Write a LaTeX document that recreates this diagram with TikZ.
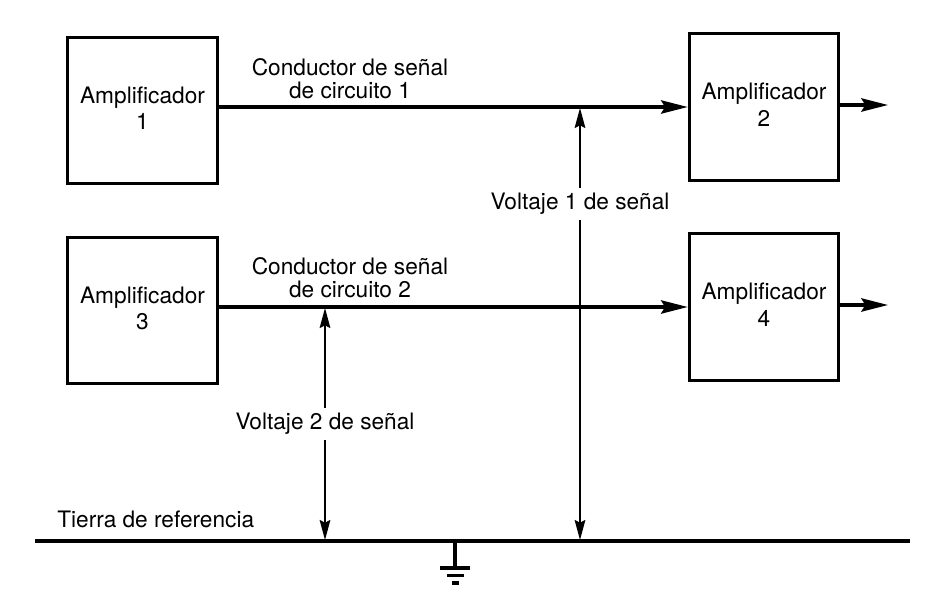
\documentclass[tikz,border=0pt]{standalone}
\usepackage{fontspec}
\setmainfont{TeX Gyre Heros}
\usetikzlibrary{arrows.meta,positioning}

\tikzset{
  ampbox/.style={draw, line width=2.4pt, minimum width=112pt, minimum height=110pt, inner sep=0pt},
  amptext/.style={align=center, inner sep=0pt, font=\fontsize{17}{20}\selectfont},
  wiretext/.style={align=center, inner sep=0pt, font=\fontsize{17}{17.3}\selectfont},
  sigline/.style={line width=2.3pt, -{Stealth[length=20pt, width=10pt, inset=3pt]}},
  voltline/.style={line width=1.2pt, -{Stealth[length=15pt, width=8pt, inset=2pt]}},
  voltlabel/.style={inner sep=4pt, font=\fontsize{17}{20}\selectfont},
}

\begin{document}
\begin{tikzpicture}[x=0.75pt, y=-0.75pt]
  \useasboundingbox (0, 0) rectangle (950, 613);

  % amplifier boxes
  \node[ampbox] (amp1) at (142.5, 110.5) {};
  \node[ampbox] (amp2) at (764, 107) {};
  \node[ampbox] (amp3) at (142.5, 310.5) {};
  \node[ampbox] (amp4) at (764, 307) {};
  \node[amptext, below=38pt of amp1.north] (t1) {Amplificador\\1};
  \node[amptext, below=38pt of amp2.north] (t2) {Amplificador\\2};
  \node[amptext, below=38pt of amp3.north] (t3) {Amplificador\\3};
  \node[amptext, below=38pt of amp4.north] (t4) {Amplificador\\4};

  % signal conductors
  \coordinate (s1) at (amp1.east |- 0, 107);
  \coordinate (s2) at (amp3.east |- 0, 307);
  \draw[sigline] (s1) -- (s1 -| amp2.west);
  \draw[sigline] (s2) -- (s2 -| amp4.west);
  \coordinate (o2) at (888, 105);
  \coordinate (o4) at (888, 305);
  \draw[sigline] (o2 -| amp2.east) -- (o2);
  \draw[sigline] (o4 -| amp4.east) -- (o4);
  \node[wiretext] (c1) at (350, 79) {Conductor de señal\\de circuito 1};
  \node[wiretext] (c2) at (350, 278) {Conductor de señal\\de circuito 2};

  % reference ground
  \coordinate (gl) at (35, 541);
  \coordinate (gr) at (910, 541);
  \draw[line width=2.3pt] (gl) -- (gr);
  \node[wiretext, anchor=base west] (tierra) at (57, 527) {Tierra de referencia};
  \coordinate (g0) at (455, 541);
  \coordinate (g1) at (455, 568);
  \draw[line width=2.3pt] (g0) -- (g1);
  \draw[line width=2.3pt] (440, 568) -- (470, 568);
  \draw[line width=2.3pt] (447, 575.5) -- (464, 575.5);
  \draw[line width=2.3pt] (452, 583) -- (459, 583);

  % signal voltages
  \node[voltlabel] (v1) at (580, 204) {Voltaje 1 de señal};
  \node[voltlabel] (v2) at (325, 424) {Voltaje 2 de señal};
  \draw[voltline] (v1.north -| 580, 0) -- (580, 108);
  \draw[voltline] (v1.south -| 580, 0) -- (580, 540);
  \draw[voltline] (v2.north -| 325, 0) -- (325, 308);
  \draw[voltline] (v2.south -| 325, 0) -- (325, 540);
\end{tikzpicture}
\end{document}
